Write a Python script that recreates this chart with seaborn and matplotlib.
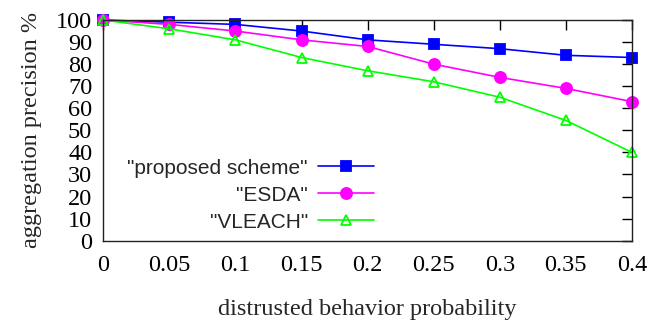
import pandas as pd
import matplotlib
matplotlib.use("Agg")
import matplotlib.pyplot as plt
import seaborn as sns

# values
probability = [0, 0.05, 0.1, 0.15, 0.2, 0.25, 0.3, 0.35, 0.4]
proposed = [100, 99, 98, 95, 91, 89, 87, 84, 83]
esda = [100, 98, 95, 91, 88, 80, 74, 69, 63]
vleach = [100, 96, 91, 83, 77, 72, 65, 54.5, 40]
x_ticks = [0, 0.05, 0.1, 0.15, 0.2, 0.25, 0.3, 0.35, 0.4]
x_labels = ["0", "0.05", "0.1", "0.15", "0.2", "0.25", "0.3", "0.35", "0.4"]
y_ticks = list(range(0, 101, 10))

sns.set_style("white")
plt.rcParams["font.family"] = ["Liberation Serif", "DejaVu Serif"]

fig = plt.figure(figsize=(6.51, 3.2), dpi=100)
ax = fig.add_axes([0.1587, 0.248, 0.812, 0.6895])

series = [
    ('"proposed scheme"', proposed, "#0000ff", "s", "#0000ff", 7.5),
    ('"ESDA"', esda, "#ff00ff", "o", "#ff00ff", 8),
    ('"VLEACH"', vleach, "#00ff00", "^", "none", 7.5),
]
for label, vals, color, marker, face, ms in series:
    df = pd.DataFrame({"x": probability, "y": vals})
    sns.lineplot(data=df, x="x", y="y", ax=ax, color=color, marker=marker,
                 markersize=ms, markerfacecolor=face, markeredgecolor=color,
                 markeredgewidth=1.3, linewidth=1.2, label=label,
                 clip_on=False)

ax.set_xlim(0, 0.4)
ax.set_ylim(0, 100)
ax.set_xticks(x_ticks)
ax.set_xticklabels(x_labels)
ax.set_yticks(y_ticks)
ax.tick_params(direction="in", length=7, width=1, colors="black",
               top=True, right=True, labelsize=17.5)
ax.tick_params(axis="y", pad=8)
ax.tick_params(axis="x", pad=10)
for s in ax.spines.values():
    s.set_color("#222222")
    s.set_linewidth(1.0)
    s.set_visible(True)

ax.set_xlabel("distrusted behavior probability", fontsize=17.5, labelpad=17)
ax.set_ylabel("aggregation precision %", fontsize=17.5, labelpad=10)

leg = ax.legend(loc="upper right", bbox_to_anchor=(0.588, 0.53),
                bbox_transform=fig.transFigure, frameon=False,
                markerfirst=False, handlelength=2.7, handletextpad=0.5,
                labelspacing=0.38, borderaxespad=0,
                prop={"family": "Liberation Sans", "size": 15})

fig.savefig("out.png", dpi=100)
